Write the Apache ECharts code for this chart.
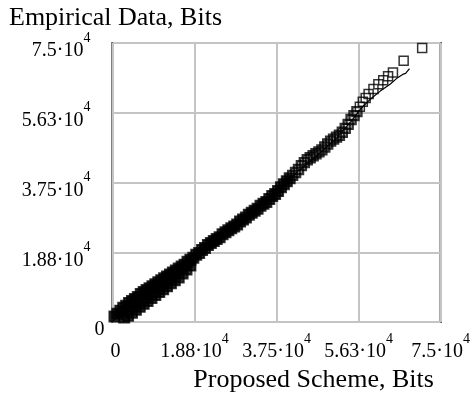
<!DOCTYPE html>
<html>
<head>
<meta charset="utf-8">
<script src="https://cdn.jsdelivr.net/npm/echarts@6/dist/echarts.min.js"></script>
<style>
html,body{margin:0;padding:0;background:#fff;}
#chart{width:473px;height:398px;}
</style>
</head>
<body>
<div id="chart"></div>
<script>
// Axis tick labels (mantissa and exponent of 10)
const tickMantissa = ['0', '1.88', '3.75', '5.63', '7.5'];
const tickExponent = ['', '4', '4', '4', '4'];

const xAxisTitle = 'Proposed Scheme, Bits';
const yAxisTitle = 'Empirical Data, Bits';

// Open-square Q-Q points: [proposed scheme, empirical data] - dense body of the plot
const squaresBand = [
  [450,1450],[1110,2240],[1780,3030],[2450,3820],[3120,4350],[3780,5140],[4450,5670],
  [5120,6190],[5790,6720],[6450,7510],[7120,8040],[7790,8570],[8460,9090],[9130,9620],
  [9790,10150],[10460,10680],[11130,11200],[11800,11730],[12460,12260],[13130,12790],
  [13800,13310],[14470,13840],[15130,14370],[15800,14890],[16470,15420],[17140,16210],
  [17800,16740],[18470,17270],[19140,18060],[19810,18580],
  [20470,19380],[21140,19900],[21810,20690],[22480,21220],[23150,21750],[23810,22280],
  [24480,22800],[25150,23590],[25820,24120],[26480,24650],[27150,25180],[27820,25700],
  [28490,26230],[29150,27020],[29820,27550],[30490,28070],[31160,28860],[31820,29390],
  [32490,29920],[33160,30450],[33830,31240],[34500,31760],[35160,32290],[35830,33080],
  [36500,33870],[37170,34400],[37830,35190],[38500,36240],[39170,37040],[39840,37830],
  [40500,38620],
  [2670,1190],[3560,1710],[4450,2500],[5340,3300],[6230,4090],[7120,4880],[8010,5670],
  [8900,6460],[9790,7250],[10680,8040],[11570,8830],[12460,9620],[13350,10410],
  [14240,11200],[15130,11990],[16020,13050],[16910,14100],[17800,15160]
];
// Open-square Q-Q points - middle stretch
const squaresMid = [
  [41170,39410],[41840,40200],[42510,40990],[43170,42040],[43840,42840],
  [44510,43630],[45180,44150],[45850,44680],[46510,45210],[47180,45740],[47850,46260],
  [48520,47050],[49180,47840],[49850,48630],[50520,49160],[51190,49690],[51850,50220],
  [52520,51010],[53190,52060],[53860,53120],[54520,54430],[55190,55490],[55860,56540]
];
// Open-square Q-Q points - upper tail
const squaresTail = [
  [56530,57860],[57200,59180],[57860,60230],[58530,61280],[59640,62610],[60760,63920],
  [61870,64960],[62980,66030],[64090,67090],[66540,70250],[70770,73680]
];
// Thin reference curve
const curve = [
  [0,130],[4450,5670],[11130,11200],[18470,17270],[26700,24910],[33380,30710],
  [37830,35190],[42280,40460],[46740,44680],[51190,49430],[54520,53910],[56750,57330],
  [58970,59960],[61200,62070],[63430,63910],[64980,65500],[66320,66560],[66990,66820],
  [67880,68140]
];

const FONT = '"Liberation Serif","Times New Roman",serif';
const richStyles = {
  m: {fontFamily: FONT, fontSize: 20, lineHeight: 30, color: '#000', verticalAlign: 'bottom'},
  z: {fontFamily: FONT, fontSize: 20, lineHeight: 30, color: '#000', verticalAlign: 'bottom', padding: [0,0,0,6]},
  s: {fontFamily: FONT, fontSize: 14, lineHeight: 14, color: '#000', verticalAlign: 'top'},
  sr: {fontFamily: FONT, fontSize: 14, lineHeight: 14, color: '#000', verticalAlign: 'top', padding: [0,14,0,0]}
};
const step = 18750;
function idxOf(v){ return Math.round(v / step); }

const chart = echarts.init(document.getElementById('chart'), null, {renderer: 'canvas'});
chart.setOption({
  animation: false,
  backgroundColor: '#fff',
  grid: {left: 110, right: 26, top: 43, bottom: 70.5, show: true, borderColor: '#000', borderWidth: 2, containLabel: false},
  xAxis: {
    type: 'value', min: 0, max: 75000, interval: step,
    name: xAxisTitle, nameLocation: 'middle', nameGap: 45,
    nameTextStyle: {fontFamily: FONT, fontSize: 26, lineHeight: 26, color: '#000', padding: [0,0,0,74]},
    axisLine: {show: false}, axisTick: {show: false},
    splitLine: {show: true, lineStyle: {color: '#c4c4c4', width: 2}},
    axisLabel: {
      margin: 10, showMinLabel: true, showMaxLabel: true, rich: richStyles,
      formatter: function(v){ const i = idxOf(v); return i === 0 ? '{z|' + tickMantissa[0] + '}' : '{m|' + tickMantissa[i] + '·10}{s|' + tickExponent[i] + '}'; }
    }
  },
  yAxis: {
    type: 'value', min: 0, max: 75000, interval: step,
    name: yAxisTitle, nameLocation: 'end', nameGap: 12,
    nameTextStyle: {fontFamily: FONT, fontSize: 26, lineHeight: 26, color: '#000', padding: [0,0,0,6]},
    axisLine: {show: false}, axisTick: {show: false},
    splitLine: {show: true, lineStyle: {color: '#c4c4c4', width: 2}},
    axisLabel: {
      margin: 8, showMinLabel: true, showMaxLabel: true, padding: [6,0,0,0], rich: richStyles,
      formatter: function(v){ const i = idxOf(v); return i === 0 ? '{m|' + tickMantissa[0] + '}' : '{m|' + tickMantissa[i] + '·10}{sr|' + tickExponent[i] + '}'; }
    }
  },
  series: [
    {type: 'line', data: curve, symbol: 'none', smooth: false, lineStyle: {color: '#000', width: 1.2}, z: 3},
    {type: 'scatter', data: squaresBand, symbol: 'rect', symbolSize: 10, itemStyle: {color: '#000', borderColor: '#000', borderWidth: 2}, z: 4},
    {type: 'scatter', data: squaresMid, symbol: 'rect', symbolSize: 9, itemStyle: {color: 'rgba(0,0,0,0)', borderColor: '#000', borderWidth: 2.4}, z: 4},
    {type: 'scatter', data: squaresTail, symbol: 'rect', symbolSize: 9, itemStyle: {color: 'rgba(0,0,0,0)', borderColor: '#000', borderWidth: 1.5}, z: 4}
  ]
});
</script>
</body>
</html>
